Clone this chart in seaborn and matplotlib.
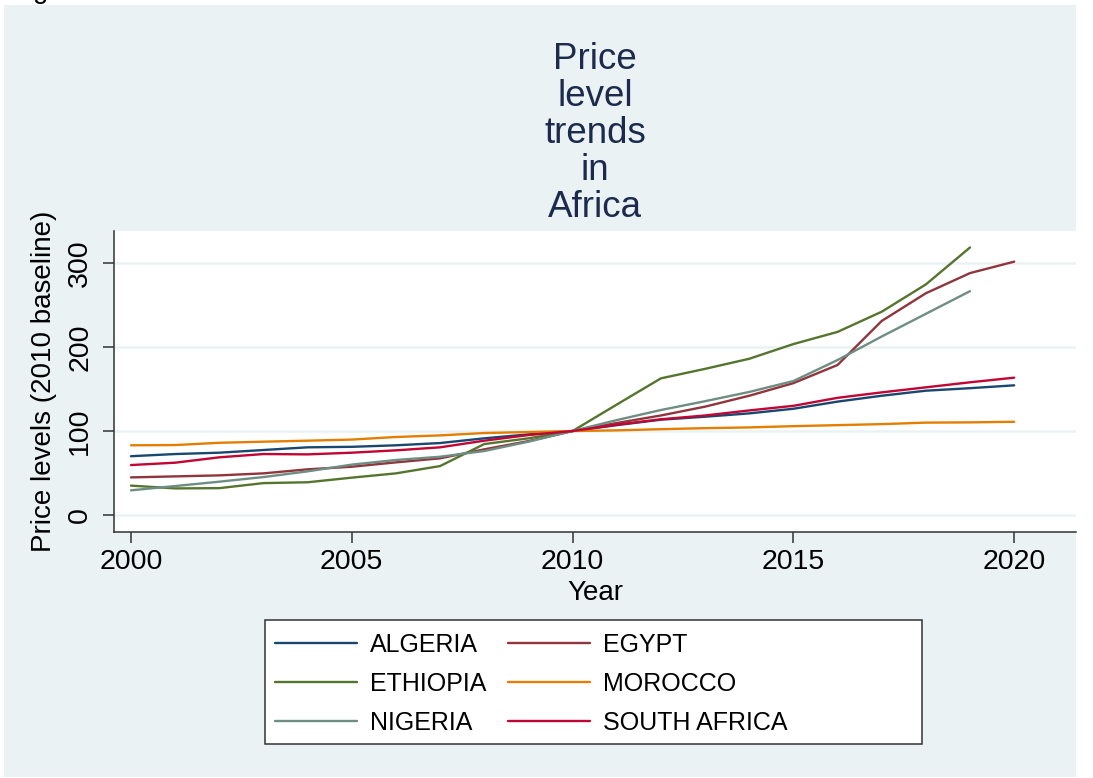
import numpy as np
import pandas as pd
import matplotlib
matplotlib.use("Agg")
import matplotlib.pyplot as plt
from matplotlib.patches import Rectangle
from matplotlib.font_manager import FontProperties
import seaborn as sns

# ---------------- data ----------------
years = list(range(2000, 2021))
algeria = [70, 72.6, 74.2, 77.4, 80.6, 81.2, 83, 85.7, 91.3, 96, 100,
           107, 113.5, 117, 121, 126.5, 135, 142, 148, 151, 154.4]
egypt = [44.8, 46, 47.2, 49.6, 54.4, 57.5, 62.7, 67.5, 78.2, 88, 100,
         109.5, 118.5, 129, 142, 157, 178.6, 231, 264, 288, 301.6]
ethiopia = [35, 31.7, 32, 38, 39, 44.5, 49.6, 58.3, 84.5, 91.3, 100,
            131.5, 162.7, 174, 186, 203.5, 218, 242, 274.5, 318.5, np.nan]
morocco = [83, 83.3, 86, 87.3, 88.5, 89.8, 92.9, 94.8, 97.6, 98.8, 100,
           100.8, 102.2, 103.4, 104.3, 105.8, 107, 108.2, 110, 110.3, 111]
nigeria = [29.4, 34.5, 39.7, 45.2, 52, 60, 65.5, 69.4, 76.2, 87.3, 100,
           113, 125, 135.5, 146.5, 159.5, 184.5, 212.5, 239.5, 266.5, np.nan]
south_africa = [59.5, 62.3, 68.7, 72.6, 72.2, 74.2, 77, 80.6, 88.5, 95.2, 100,
                107.5, 114, 118.5, 124.5, 130, 139.5, 146, 152, 158, 163.5]

countries = ["ALGERIA", "EGYPT", "ETHIOPIA", "MOROCCO", "NIGERIA", "SOUTH AFRICA"]
series = [algeria, egypt, ethiopia, morocco, nigeria, south_africa]
colors = ["#1a476f", "#90353b", "#55752f", "#e37e00", "#6e8e84", "#c10534"]
legend_order = ["ALGERIA", "ETHIOPIA", "NIGERIA", "EGYPT", "MOROCCO", "SOUTH AFRICA"]

x_ticks = [2000, 2005, 2010, 2015, 2020]
y_ticks = [0, 100, 200, 300]

title_text = "Price\nlevel\ntrends\nin\nAfrica"
x_label = "Year"
y_label = "Price levels (2010 baseline)"

# ---------------- build long table ----------------
rows = []
for name, vals in zip(countries, series):
    for yr, v in zip(years, vals):
        rows.append({"Year": yr, "Value": v, "Country": name})
df = pd.DataFrame(rows).dropna()

# ---------------- style ----------------
sns.set_theme(style="white")
plt.rcParams["font.family"] = ["Liberation Sans", "DejaVu Sans"]

W, H = 1093, 778
fig = plt.figure(figsize=(W / 100, H / 100), dpi=100)
fig.patch.set_facecolor("white")

# light graph-region panel
fig.add_artist(Rectangle((4 / W, 1 - 777 / H), 1072 / W, 772 / H,
                         transform=fig.transFigure, facecolor="#eaf2f3",
                         edgecolor="none", zorder=-10))

ax = fig.add_axes([114 / W, 1 - 532 / H, (1076 - 114) / W, (532 - 231) / H])
ax.set_facecolor("white")

sns.lineplot(data=df, x="Year", y="Value", hue="Country", hue_order=countries,
             palette=dict(zip(countries, colors)), linewidth=1.7, ax=ax)

leg = ax.get_legend()
h_map = {t.get_text(): h for t, h in zip(leg.get_texts(), leg.legend_handles)}
leg.remove()

ax.set_xlim(1999.615, 2021.40)
ax.set_ylim(-20.2, 338.1)
ax.set_xticks(x_ticks)
ax.set_yticks(y_ticks)
ax.set_xticklabels([str(t) for t in x_ticks])
ax.set_yticklabels([str(t) for t in y_ticks])

ax.yaxis.grid(True, color="#eaf2f3", linewidth=1.8)
ax.xaxis.grid(False)
ax.set_axisbelow(True)

for s in ["top", "right"]:
    ax.spines[s].set_visible(False)
for s in ["left", "bottom"]:
    ax.spines[s].set_color("#333333")
    ax.spines[s].set_linewidth(1.1)

ax.tick_params(axis="both", direction="out", length=8, width=1.1,
               color="#333333", labelsize=20.5, labelcolor="black")
ax.tick_params(axis="y", pad=7, left=True)
ax.tick_params(axis="x", pad=4.5, bottom=True)
plt.setp(ax.get_yticklabels(), rotation=90, va="center")

ax.set_xlabel(x_label, fontsize=20, color="black", labelpad=3)
ax.set_ylabel(y_label, fontsize=20, color="black", labelpad=7)

# title (baseline of last line)
fig.text(595 / W, 1 - 216.7 / H, title_text, ha="center", va="baseline",
         fontsize=26.5, color="#1c2a4e", linespacing=1.07, multialignment="center")

# cropped glyph at the top-left edge
fig.text(33 / W, 1 + 2 / H, "g", ha="left", va="baseline", fontsize=20, color="black")

# legend frame
fig.add_artist(Rectangle((265 / W, 1 - 744 / H), (922 - 265) / W, (744 - 620) / H,
                         transform=fig.transFigure, facecolor="white",
                         edgecolor="#333333", linewidth=1.1, zorder=1))

handles = [h_map[c] for c in legend_order]
lp = FontProperties(family=["Liberation Sans"], size=18)
fig.legend(handles, legend_order, ncol=2, loc="upper left",
           bbox_to_anchor=(275 / W, 1 - 632.5 / H), frameon=False,
           borderpad=0, borderaxespad=0, handlelength=3.28, handletextpad=0.52,
           columnspacing=0.88, labelspacing=0.61, prop=lp, labelcolor="black")

fig.savefig("out.png", dpi=100)
